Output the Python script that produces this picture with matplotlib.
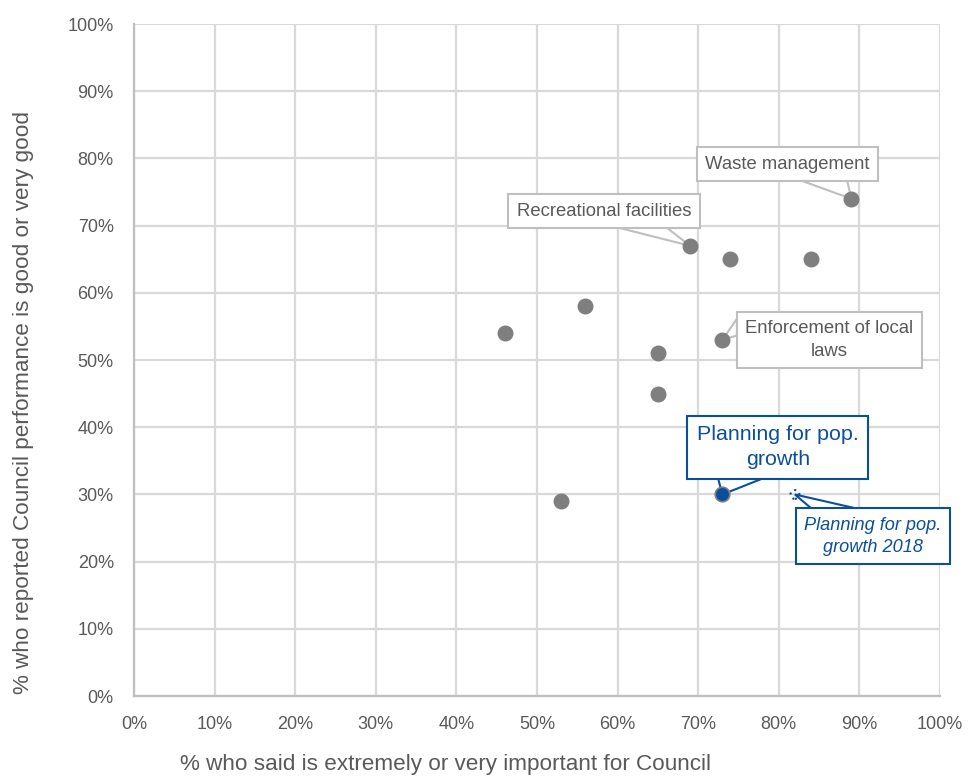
import matplotlib
matplotlib.use("Agg")
import matplotlib.pyplot as plt
from matplotlib.patches import Polygon
from matplotlib.ticker import PercentFormatter

# Werte (in %)
importance = [46, 56, 53, 65, 65, 69, 74, 84, 89, 73]
performance = [54, 58, 29, 51, 45, 67, 65, 65, 74, 53]
labels = ["", "", "", "", "", "Recreational facilities", "", "", "Waste management",
          "Enforcement of local\nlaws"]

focus_x = [73]
focus_y = [30]
focus_label = "Planning for pop.\ngrowth"

prev_x = [82]
prev_y = [30]
prev_label = "Planning for pop.\ngrowth 2018"

x_ticks = list(range(0, 101, 10))
y_ticks = list(range(0, 101, 10))

plt.rcParams["font.family"] = ["Liberation Sans", "DejaVu Sans"]

GREY_DOT = "#7f7f7f"
GREY_TXT = "#595959"
GRID = "#d9d9d9"
BOX_GREY = "#bfbfbf"
BLUE = "#0b4f9c"

fig = plt.figure(figsize=(9.8, 7.76), dpi=100)
ax = fig.add_axes([0.1367, 0.103, 0.8225, 0.866])

ax.set_xlim(0, 100)
ax.set_ylim(0, 100)
ax.set_xticks(x_ticks)
ax.set_yticks(y_ticks)
ax.xaxis.set_major_formatter(PercentFormatter(decimals=0))
ax.yaxis.set_major_formatter(PercentFormatter(decimals=0))
ax.tick_params(length=0, labelsize=13, labelcolor=GREY_TXT, pad=14.5)
ax.grid(True, color=GRID, linewidth=1.6)
ax.set_axisbelow(True)
for side in ["top", "right"]:
    ax.spines[side].set_visible(False)
for side in ["left", "bottom"]:
    ax.spines[side].set_color(BOX_GREY)
    ax.spines[side].set_linewidth(1.6)

ax.scatter(importance, performance, s=110, color=GREY_DOT, zorder=3, clip_on=False)
ax.scatter(focus_x, focus_y, s=110, color=BLUE, edgecolor=GREY_DOT, linewidth=1.2, zorder=3)
ax.scatter(prev_x, prev_y, s=40, facecolor="none", edgecolor=BLUE, linestyle=(0, (1, 2)),
           linewidth=1.5, zorder=3)

callouts = []  # (annotation, punkt, kante, anteil0, anteil1, farbe)


def callout(txt, xy, offset, color, edge, size, side, f0, f1, **kw):
    ann = ax.annotate(txt, xy, xytext=offset, textcoords="offset points",
                      ha="center", va="center", fontsize=size, color=color, linespacing=1.4,
                      bbox=dict(boxstyle="square,pad=0.45", fc="white", ec=edge, lw=1.5),
                      zorder=4, **kw)
    callouts.append((ann, xy, side, f0, f1, edge))


# Beschriftungen: Abstand in Punkten, Kante und Lage des Zeigers
label_style = {
    "Recreational facilities": ((-62, 25), "bottom", 0.58, 0.83),
    "Waste management": ((-46, 25), "bottom", 0.58, 0.83),
    "Enforcement of local\nlaws": ((77, 0), "left", 0.12, 0.42),
}
for x, y, txt in zip(importance, performance, labels):
    if not txt:
        continue
    off, side, f0, f1 = label_style[txt]
    callout(txt, (x, y), off, GREY_TXT, BOX_GREY, 13.3, side, f0, f1)

callout(focus_label, (focus_x[0], focus_y[0]), (40, 34), BLUE, BLUE, 15.4, "bottom", 0.17, 0.41)
callout(prev_label, (prev_x[0], prev_y[0]), (56, -30), BLUE, BLUE, 13.1, "top", 0.10, 0.39,
        style="italic")

ax.set_xlabel("% who said is extremely or very important for Council",
              fontsize=16.2, color=GREY_TXT)
ax.xaxis.set_label_coords(0.387, -0.086)
ax.set_ylabel("% who reported Council performance is good or very good",
              fontsize=16.2, color=GREY_TXT)
ax.yaxis.set_label_coords(-0.124, 0.4375)

# Zeiger der Sprechblasen nach dem Layout berechnen
fig.canvas.draw()
inv = ax.transData.inverted()
for ann, xy, side, f0, f1, edge in callouts:
    bb = ann.get_bbox_patch().get_window_extent()
    if side == "bottom":
        base = [(bb.x0 + f0 * bb.width, bb.y0), (bb.x0 + f1 * bb.width, bb.y0)]
    elif side == "top":
        base = [(bb.x0 + f0 * bb.width, bb.y1), (bb.x0 + f1 * bb.width, bb.y1)]
    else:
        base = [(bb.x0, bb.y1 - f0 * bb.height), (bb.x0, bb.y1 - f1 * bb.height)]
    tip = ax.transData.transform(xy)
    pts = inv.transform([base[0], tuple(tip), base[1]])
    ax.add_patch(Polygon(pts, closed=True, fc="white", ec=edge, lw=1.5, zorder=2.5))

fig.savefig("out.png", dpi=100)
